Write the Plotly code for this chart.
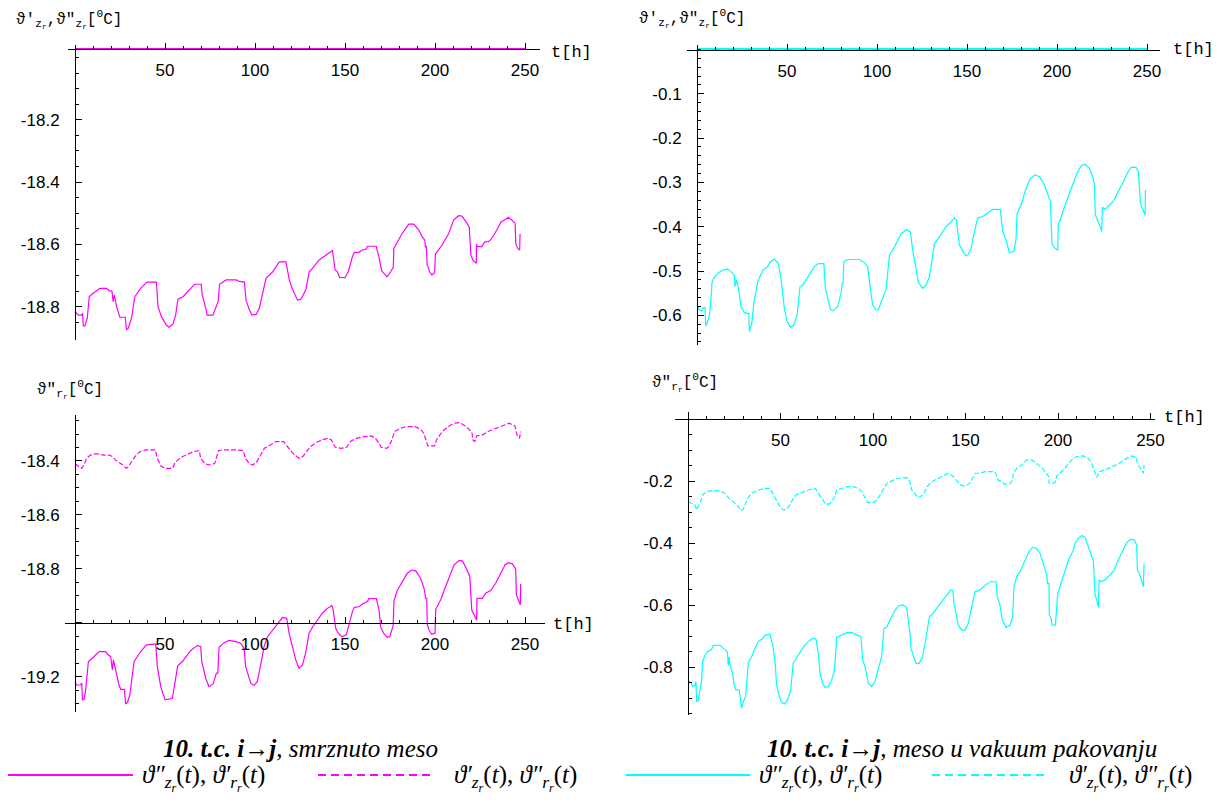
import plotly.graph_objects as go

# ---------------- data (t in hours, temperatures in deg C) ----------------
TIME_TICKS = [50, 100, 150, 200, 250]

# top-left: frozen meat, zone temperatures
TL_SOLID_T = [0, 1.8, 3.7, 4.2, 4.6, 5.5, 6.8, 7.9, 10.1, 13.8, 17.5, 19.0, 20.5, 21.2, 21.8, 23.1, 24.9, 27.9, 28.6, 29.5,
              31.4, 33.2, 36.9, 40.0, 45.2, 46.1, 48.0, 50.7, 52.2, 54.4, 55.9, 57.2, 60.0, 66.4, 70.1, 70.7, 72.9, 73.4, 76.6, 78.4,
              79.5, 80.3, 82.5, 83.9, 89.5, 91.3, 94.1, 95.0, 96.9, 98.3, 100.6, 102.4, 104.2, 106.1, 109.8, 113.5, 117.2, 119.0, 120.8, 123.6,
              125.5, 128.2, 130.1, 131.9, 135.6, 139.3, 142.1, 143.0, 144.5, 145.8, 147.0, 150.0, 151.8, 154.1, 155.2, 157.7, 159.6, 161.8, 162.4, 167.3,
              168.8, 170.3, 171.6, 173.4, 175.3, 176.8, 177.1, 179.0, 181.7, 185.4, 188.2, 191.0, 192.8, 194.3, 194.6, 195.2, 195.6, 196.5, 196.9, 198.3,
              199.8, 200.2, 203.9, 207.6, 210.3, 213.1, 214.9, 217.2, 219.0, 219.9, 221.0, 222.9, 223.1, 223.4, 226.0, 227.5, 229.7, 231.5, 234.3, 236.7,
              238.6, 240.8, 242.6, 244.5, 244.8, 245.9, 247.0, 247.2]
TL_SOLID = [-18.816, -18.827, -18.827, -18.821, -18.862, -18.862, -18.837, -18.768, -18.757, -18.741, -18.741, -18.749, -18.749, -18.784, -18.763, -18.800, -18.834, -18.834, -18.873, -18.870,
            -18.837, -18.768, -18.738, -18.721, -18.721, -18.800, -18.832, -18.859, -18.866, -18.856, -18.827, -18.776, -18.768, -18.728, -18.728, -18.763, -18.811, -18.827, -18.827, -18.800,
            -18.784, -18.728, -18.720, -18.714, -18.714, -18.719, -18.721, -18.779, -18.811, -18.827, -18.825, -18.805, -18.757, -18.709, -18.688, -18.656, -18.656, -18.714, -18.744, -18.779,
            -18.776, -18.746, -18.688, -18.677, -18.650, -18.634, -18.623, -18.620, -18.682, -18.688, -18.706, -18.707, -18.688, -18.639, -18.626, -18.626, -18.618, -18.615, -18.606, -18.606,
            -18.639, -18.684, -18.693, -18.704, -18.688, -18.674, -18.613, -18.591, -18.565, -18.535, -18.535, -18.554, -18.575, -18.586, -18.607, -18.607, -18.666, -18.677, -18.688, -18.698,
            -18.691, -18.631, -18.602, -18.565, -18.522, -18.508, -18.509, -18.527, -18.545, -18.634, -18.650, -18.661, -18.599, -18.607, -18.607, -18.592, -18.591, -18.581, -18.554, -18.527,
            -18.522, -18.513, -18.522, -18.532, -18.597, -18.613, -18.618, -18.567]
TL_DASH_T = [0, 50, 100, 150, 200, 250]
TL_DASH = [-17.973, -17.973, -17.973, -17.973, -17.973, -17.973]

# top-right: vacuum packed meat, zone temperatures
TR_SOLID_T = [0, 1.3, 2.6, 3.7, 4.4, 4.8, 5.9, 7.0, 7.8, 8.3, 9.1, 11.5, 14.3, 17.0, 18.9, 20.7, 21.1, 21.9, 23.0, 24.4,
              26.3, 28.7, 29.1, 30.4, 31.5, 33.7, 36.5, 39.3, 40.7, 43.0, 45.2, 46.7, 48.5, 50.0, 51.9, 53.7, 55.6, 57.2, 58.7, 62.4,
              65.2, 67.0, 70.4, 71.3, 72.6, 74.1, 75.4, 78.1, 80.0, 80.6, 81.1, 81.5, 83.7, 90.2, 93.0, 94.8, 96.7, 97.6, 99.4, 100.7,
              103.1, 105.0, 106.9, 108.3, 110.6, 113.3, 116.1, 118.5, 119.8, 121.7, 123.0, 125.4, 127.2, 129.1, 130.4, 131.9, 134.6, 138.3, 141.1, 143.0,
              144.1, 144.8, 145.7, 147.6, 149.4, 150.7, 152.2, 154.1, 155.9, 158.7, 161.5, 164.3, 168.5, 169.3, 169.8, 171.7, 173.5, 175.9, 177.2, 177.8,
              180.0, 182.8, 185.2, 187.8, 190.2, 192.6, 194.8, 196.3, 196.7, 197.2, 198.5, 200.4, 200.7, 201.5, 204.1, 207.4, 209.6, 211.5, 213.3, 215.6,
              218.0, 219.8, 220.7, 221.3, 222.6, 224.1, 224.8, 225.2, 226.7, 229.1, 231.5, 233.7, 236.5, 239.3, 241.1, 243.9, 245.2, 246.3, 247.6, 248.9, 249.1]
TR_SOLID = [-0.577, -0.588, -0.590, -0.582, -0.582, -0.624, -0.614, -0.596, -0.558, -0.526, -0.517, -0.505, -0.498, -0.496, -0.502, -0.509, -0.535, -0.520, -0.539, -0.581,
            -0.594, -0.596, -0.637, -0.618, -0.573, -0.524, -0.498, -0.490, -0.479, -0.473, -0.483, -0.520, -0.584, -0.614, -0.627, -0.622, -0.599, -0.535, -0.532, -0.509,
            -0.490, -0.484, -0.483, -0.539, -0.562, -0.587, -0.590, -0.581, -0.550, -0.528, -0.528, -0.479, -0.474, -0.474, -0.481, -0.490, -0.554, -0.577, -0.588, -0.587,
            -0.562, -0.541, -0.464, -0.456, -0.438, -0.417, -0.407, -0.411, -0.453, -0.498, -0.526, -0.539, -0.532, -0.513, -0.475, -0.438, -0.423, -0.400, -0.389, -0.380,
            -0.385, -0.415, -0.441, -0.455, -0.466, -0.462, -0.449, -0.411, -0.380, -0.377, -0.368, -0.361, -0.361, -0.385, -0.411, -0.430, -0.459, -0.456, -0.429, -0.371,
            -0.351, -0.313, -0.291, -0.283, -0.287, -0.302, -0.325, -0.344, -0.385, -0.439, -0.447, -0.453, -0.392, -0.389, -0.355, -0.317, -0.295, -0.276, -0.263, -0.259,
            -0.268, -0.287, -0.304, -0.374, -0.386, -0.401, -0.411, -0.356, -0.361, -0.351, -0.341, -0.323, -0.302, -0.277, -0.266, -0.266, -0.276, -0.347, -0.362, -0.374, -0.317]
TR_DASH_T = [0, 50, 100, 150, 200, 250]
TR_DASH = [0.0, 0.0, 0.0, 0.0, 0.0, 0.0]

# bottom-left: frozen meat, surface temperatures
BL_SOLID_T = [0, 0.7, 3.1, 3.7, 4.1, 5.0, 5.9, 7.4, 9.6, 13.3, 17.0, 18.5, 19.8, 20.7, 21.3, 22.6, 24.4, 25.4, 27.4, 28.1,
              29.1, 30.4, 32.8, 36.5, 39.6, 44.8, 45.7, 47.6, 50.0, 54.1, 55.0, 57.0, 59.6, 64.3, 68.0, 69.8, 70.4, 72.6, 74.4, 76.7,
              78.5, 79.3, 80.0, 82.8, 85.6, 89.3, 92.0, 93.9, 94.8, 97.6, 99.4, 101.3, 103.1, 105.0, 106.9, 109.6, 112.4, 115.2, 117.6, 118.9,
              120.7, 122.6, 124.4, 126.3, 128.1, 130.0, 131.9, 134.6, 137.4, 140.2, 142.6, 143.3, 144.8, 146.3, 148.1, 150.7, 152.2, 154.1, 155.2, 157.8,
              159.6, 162.4, 163.3, 167.4, 168.9, 169.8, 171.7, 173.5, 174.8, 175.9, 176.7, 177.2, 179.1, 181.9, 184.6, 187.0, 189.3, 192.0, 193.9, 194.8,
              195.4, 195.7, 196.7, 198.1, 200.0, 200.4, 203.1, 205.9, 208.7, 210.6, 213.3, 215.2, 217.4, 219.3, 220.4, 221.7, 223.1, 223.3, 226.3, 228.1,
              230.9, 233.7, 236.5, 238.9, 240.7, 243.0, 244.8, 245.2, 246.3, 247.4, 247.6]
BL_SOLID = [-19.217, -19.230, -19.230, -19.223, -19.285, -19.283, -19.248, -19.143, -19.131, -19.106, -19.106, -19.119, -19.125, -19.174, -19.137, -19.180, -19.230, -19.246, -19.246, -19.300,
            -19.295, -19.267, -19.143, -19.106, -19.081, -19.078, -19.162, -19.236, -19.285, -19.279, -19.236, -19.159, -19.143, -19.102, -19.083, -19.088, -19.143, -19.205, -19.236, -19.226,
            -19.186, -19.186, -19.090, -19.073, -19.065, -19.069, -19.075, -19.094, -19.162, -19.223, -19.232, -19.217, -19.156, -19.088, -19.051, -19.026, -19.004, -18.980, -18.983, -19.038,
            -19.088, -19.137, -19.168, -19.156, -19.112, -19.038, -19.016, -18.989, -18.964, -18.946, -18.936, -18.946, -19.020, -19.038, -19.051, -19.044, -19.001, -18.958, -18.942, -18.940,
            -18.930, -18.921, -18.910, -18.910, -18.952, -19.016, -19.041, -19.053, -19.051, -19.026, -19.011, -18.917, -18.878, -18.847, -18.816, -18.804, -18.807, -18.835, -18.872, -18.909,
            -18.909, -19.007, -19.026, -19.042, -19.038, -18.949, -18.915, -18.865, -18.816, -18.785, -18.769, -18.770, -18.798, -18.828, -18.952, -18.970, -18.989, -18.909, -18.909, -18.890,
            -18.880, -18.853, -18.816, -18.785, -18.777, -18.781, -18.801, -18.896, -18.915, -18.933, -18.856]
BL_DASH_T = [0, 2.1, 3.8, 5.3, 6.4, 8.5, 10.6, 12.8, 15.9, 19.1, 21.3, 22.3, 24.4, 26.6, 28.3, 29.8, 31.9, 34.0, 36.1, 39.3,
             44.6, 45.7, 47.8, 49.9, 54.2, 55.3, 57.4, 59.5, 61.6, 65.9, 69.1, 69.7, 72.3, 75.5, 77.6, 78.6, 79.7, 81.8, 89.3, 93.5,
             94.6, 96.7, 98.8, 101.0, 103.1, 105.2, 108.4, 111.6, 115.8, 117.3, 119.0, 121.1, 124.3, 126.5, 128.6, 130.7, 133.9, 137.1, 140.3, 142.4,
             144.5, 147.7, 150.9, 153.0, 156.2, 160.5, 164.7, 166.8, 169.0, 170.0, 173.2, 174.3, 176.0, 177.5, 180.7, 183.8, 189.2, 192.3, 193.8, 195.5,
             196.0, 199.8, 200.8, 204.0, 207.2, 210.4, 213.6, 216.8, 218.9, 220.6, 221.0, 222.1, 223.2, 226.3, 229.5, 233.8, 238.0, 241.2, 243.4, 244.4,
             245.5, 246.9, 247.6]
BL_DASH = [-18.409, -18.421, -18.427, -18.409, -18.390, -18.378, -18.374, -18.374, -18.378, -18.378, -18.386, -18.396, -18.406, -18.415, -18.427, -18.421, -18.396, -18.378, -18.365, -18.359,
           -18.359, -18.390, -18.419, -18.427, -18.427, -18.409, -18.394, -18.384, -18.378, -18.365, -18.362, -18.390, -18.411, -18.415, -18.409, -18.390, -18.362, -18.359, -18.359, -18.362,
           -18.390, -18.409, -18.415, -18.402, -18.378, -18.353, -18.341, -18.328, -18.328, -18.341, -18.353, -18.372, -18.390, -18.384, -18.365, -18.347, -18.332, -18.322, -18.316, -18.322,
           -18.349, -18.353, -18.349, -18.328, -18.316, -18.310, -18.307, -18.316, -18.335, -18.349, -18.353, -18.347, -18.322, -18.291, -18.279, -18.273, -18.273, -18.285, -18.298, -18.328,
           -18.344, -18.344, -18.322, -18.291, -18.273, -18.260, -18.258, -18.270, -18.283, -18.298, -18.322, -18.328, -18.307, -18.304, -18.291, -18.279, -18.267, -18.260, -18.267, -18.270,
           -18.304, -18.316, -18.291]

# bottom-right: vacuum packed meat, surface temperatures
BR_SOLID_T = [0, 1.1, 2.5, 3.8, 4.3, 4.7, 5.6, 6.5, 7.4, 7.9, 9.2, 10.5, 12.8, 13.7, 17.3, 19.1, 21.3, 21.8, 22.3, 22.7,
              24.1, 24.9, 25.9, 27.7, 29.0, 29.9, 31.2, 32.6, 34.4, 36.2, 38.0, 40.4, 41.6, 44.3, 45.8, 47.0, 47.9, 49.4, 50.6, 52.1,
              53.7, 55.5, 56.9, 58.2, 60.5, 62.7, 65.0, 67.4, 69.2, 70.5, 71.4, 72.8, 74.1, 75.9, 77.7, 78.9, 79.5, 80.4, 83.1, 85.8,
              88.5, 91.2, 93.5, 94.4, 95.7, 97.5, 99.3, 101.1, 102.9, 104.7, 105.9, 107.4, 109.2, 111.4, 113.7, 116.0, 118.2, 119.1, 120.0, 120.5,
              121.8, 123.2, 125.0, 126.8, 128.6, 130.5, 131.7, 134.4, 138.0, 142.0, 143.1, 143.8, 145.2, 146.1, 147.9, 149.7, 151.5, 153.3, 155.1, 157.8,
              160.0, 163.2, 166.5, 167.2, 168.6, 169.9, 171.9, 174.1, 175.5, 176.2, 177.7, 179.5, 182.2, 184.5, 186.3, 188.1, 190.3, 191.7, 193.9, 194.4,
              195.1, 195.3, 196.2, 196.9, 198.6, 199.8, 201.1, 203.2, 205.6, 208.3, 209.2, 211.0, 212.8, 214.6, 216.4, 218.2, 219.1, 220.0, 220.9, 221.8,
              222.2, 223.2, 225.4, 228.1, 229.9, 232.6, 235.3, 237.1, 239.3, 241.1, 242.5, 242.9, 244.0, 245.8, 246.1, 246.5]
BR_SOLID = [-0.847, -0.847, -0.863, -0.860, -0.847, -0.912, -0.906, -0.874, -0.842, -0.783, -0.761, -0.751, -0.743, -0.730, -0.730, -0.740, -0.751, -0.794, -0.767, -0.794,
            -0.820, -0.855, -0.874, -0.874, -0.933, -0.912, -0.894, -0.786, -0.767, -0.740, -0.718, -0.708, -0.697, -0.695, -0.729, -0.777, -0.858, -0.896, -0.915, -0.919,
            -0.906, -0.876, -0.786, -0.777, -0.756, -0.732, -0.718, -0.708, -0.710, -0.761, -0.820, -0.853, -0.866, -0.863, -0.840, -0.820, -0.786, -0.704, -0.697, -0.689,
            -0.689, -0.697, -0.702, -0.777, -0.799, -0.853, -0.863, -0.847, -0.804, -0.765, -0.675, -0.672, -0.648, -0.621, -0.603, -0.600, -0.608, -0.648, -0.691, -0.740,
            -0.761, -0.788, -0.788, -0.767, -0.708, -0.638, -0.632, -0.611, -0.584, -0.552, -0.552, -0.595, -0.638, -0.665, -0.681, -0.681, -0.659, -0.605, -0.557, -0.552,
            -0.539, -0.525, -0.525, -0.573, -0.600, -0.648, -0.672, -0.665, -0.638, -0.538, -0.509, -0.492, -0.455, -0.425, -0.414, -0.417, -0.433, -0.460, -0.503, -0.530,
            -0.530, -0.632, -0.643, -0.665, -0.665, -0.565, -0.541, -0.503, -0.455, -0.423, -0.401, -0.385, -0.376, -0.382, -0.412, -0.439, -0.457, -0.568, -0.584, -0.608,
            -0.519, -0.525, -0.519, -0.503, -0.492, -0.455, -0.423, -0.399, -0.388, -0.390, -0.406, -0.487, -0.498, -0.535, -0.541, -0.466]
BR_DASH_T = [0, 2.0, 3.8, 4.7, 5.6, 6.8, 7.9, 10.1, 12.8, 15.5, 18.2, 20.0, 21.8, 23.6, 25.4, 27.2, 28.6, 29.9, 31.4, 32.6,
             34.4, 38.0, 41.6, 44.3, 45.8, 47.6, 49.7, 51.5, 53.3, 55.1, 56.9, 58.4, 61.4, 65.0, 68.6, 69.5, 70.5, 72.3, 74.1, 75.9,
             77.7, 79.5, 80.4, 83.1, 85.8, 89.4, 92.1, 93.9, 95.7, 97.1, 100.2, 102.0, 103.8, 105.6, 107.4, 111.0, 113.7, 118.2, 120.0, 120.9,
             122.7, 124.0, 125.8, 127.6, 129.4, 131.2, 133.5, 137.1, 140.7, 142.5, 144.3, 146.1, 147.9, 149.7, 152.1, 153.9, 155.3, 157.8, 160.5, 165.9,
             166.8, 167.7, 169.5, 171.4, 174.1, 175.3, 175.9, 177.7, 180.4, 183.1, 185.8, 188.5, 191.2, 193.5, 194.8, 195.3, 196.6, 198.4, 199.3, 202.0,
             204.7, 207.4, 210.1, 213.7, 216.4, 218.2, 219.1, 220.0, 220.9, 222.3, 225.4, 229.0, 231.7, 234.4, 237.1, 239.8, 242.2, 242.9, 244.0, 245.2,
             246.1, 246.5]
BR_DASH = [-0.267, -0.272, -0.277, -0.293, -0.283, -0.267, -0.245, -0.234, -0.231, -0.231, -0.234, -0.240, -0.253, -0.261, -0.272, -0.283, -0.296, -0.291, -0.272, -0.253,
           -0.240, -0.229, -0.224, -0.224, -0.240, -0.261, -0.283, -0.293, -0.291, -0.277, -0.256, -0.245, -0.238, -0.229, -0.224, -0.229, -0.240, -0.256, -0.272, -0.275,
           -0.267, -0.248, -0.229, -0.224, -0.218, -0.218, -0.224, -0.234, -0.253, -0.269, -0.270, -0.261, -0.245, -0.224, -0.208, -0.197, -0.191, -0.189, -0.202, -0.229,
           -0.240, -0.253, -0.250, -0.238, -0.218, -0.204, -0.197, -0.184, -0.175, -0.181, -0.191, -0.205, -0.215, -0.215, -0.208, -0.191, -0.175, -0.175, -0.170, -0.170,
           -0.181, -0.197, -0.202, -0.211, -0.208, -0.197, -0.175, -0.159, -0.148, -0.132, -0.132, -0.143, -0.156, -0.175, -0.184, -0.208, -0.208, -0.205, -0.184, -0.170,
           -0.152, -0.132, -0.121, -0.119, -0.127, -0.143, -0.159, -0.175, -0.188, -0.170, -0.164, -0.154, -0.148, -0.138, -0.127, -0.119, -0.124, -0.143, -0.154, -0.164,
           -0.175, -0.148]

TL_YTICKS = [-18.2, -18.4, -18.6, -18.8]
TR_YTICKS = [-0.1, -0.2, -0.3, -0.4, -0.5, -0.6]
BL_YTICKS = [-18.4, -18.6, -18.8, -19.0, -19.2]
BL_YLABELS = ["-18.4", "-18.6", "-18.8", "", "-19.2"]
BR_YTICKS = [-0.2, -0.4, -0.6, -0.8]

MAGENTA = "#ff00ff"
CYAN = "#00ffff"

# ---------------- figure ----------------
# page body has an 8px margin; figure is sized so that it fits the 1222x800 window
OFF = 8
W, H = 1214, 792
def px(x):
    return (x - OFF) / W
def py(y):
    return 1 - (y - OFF) / H

fig = go.Figure()
DASH = "5px,2px"
fig.add_trace(go.Scatter(x=TL_DASH_T, y=TL_DASH, mode="lines", line=dict(color=MAGENTA, width=2), xaxis="x", yaxis="y"))
fig.add_trace(go.Scatter(x=TL_SOLID_T, y=TL_SOLID, mode="lines", line=dict(color=MAGENTA, width=1.2), xaxis="x", yaxis="y"))
fig.add_trace(go.Scatter(x=TR_DASH_T, y=TR_DASH, mode="lines", line=dict(color=CYAN, width=3), xaxis="x2", yaxis="y2"))
fig.add_trace(go.Scatter(x=TR_SOLID_T, y=TR_SOLID, mode="lines", line=dict(color=CYAN, width=1.2), xaxis="x2", yaxis="y2"))
fig.add_trace(go.Scatter(x=BL_DASH_T, y=BL_DASH, mode="lines", line=dict(color=MAGENTA, width=1.2, dash=DASH), xaxis="x3", yaxis="y3"))
fig.add_trace(go.Scatter(x=BL_SOLID_T, y=BL_SOLID, mode="lines", line=dict(color=MAGENTA, width=1.2), xaxis="x3", yaxis="y3"))
fig.add_trace(go.Scatter(x=BR_DASH_T, y=BR_DASH, mode="lines", line=dict(color=CYAN, width=1.2, dash=DASH), xaxis="x4", yaxis="y4"))
fig.add_trace(go.Scatter(x=BR_SOLID_T, y=BR_SOLID, mode="lines", line=dict(color=CYAN, width=1.2), xaxis="x4", yaxis="y4"))

TICKFONT = dict(family="Liberation Sans, Arial, sans-serif", size=17, color="black")
x_minor = [v for v in range(10, 251, 10) if v % 50 != 0]

def xaxis(dom, rng, pos):
    return dict(domain=[px(dom[0]), px(dom[1])], range=rng, anchor="free", position=py(pos),
                showline=True, linecolor="black", linewidth=1, showgrid=False, zeroline=False,
                ticks="inside", ticklen=6, tickwidth=1, tickcolor="black",
                tickmode="array", tickvals=TIME_TICKS, ticktext=[str(v) for v in TIME_TICKS],
                tickfont=TICKFONT, ticklabelstandoff=6,
                minor=dict(tickmode="array", tickvals=x_minor, ticks="inside", ticklen=3, tickcolor="black", showgrid=False))

def yaxis(dom, rng, pos, vals, labels, minor_vals):
    return dict(domain=[py(dom[1]), py(dom[0])], range=rng, anchor="free", position=px(pos),
                showline=True, linecolor="black", linewidth=1, showgrid=False, zeroline=False,
                ticks="inside", ticklen=6, tickwidth=1, tickcolor="black",
                tickmode="array", tickvals=vals, ticktext=labels,
                tickfont=TICKFONT, ticklabelstandoff=12,
                minor=dict(tickmode="array", tickvals=minor_vals, ticks="inside", ticklen=3, tickcolor="black", showgrid=False))

def minor_list(lo, hi, step, majors):
    out = []
    n = int(round((hi - lo) / step))
    for i in range(n + 1):
        v = round(lo + i * step, 4)
        if all(abs(v - m) > 1e-6 for m in majors):
            out.append(v)
    return out

fig.update_layout(
    width=W, height=H, margin=dict(l=0, r=0, t=0, b=0, autoexpand=False),
    paper_bgcolor="white", plot_bgcolor="rgba(0,0,0,0)", showlegend=False,
    xaxis=xaxis((68, 540), [-3.9, 258.3], 49),
    yaxis=yaxis((45, 340), [-18.907, -17.96], 75, TL_YTICKS, [f"{v:.1f}" for v in TL_YTICKS],
                minor_list(-18.85, -18.0, 0.05, TL_YTICKS)),
    xaxis2=xaxis((687, 1160), [-5.6, 257.2], 49.5),
    yaxis2=yaxis((45, 345), [-0.667, 0.0102], 697, TR_YTICKS, [f"{v:.1f}" for v in TR_YTICKS],
                 minor_list(-0.66, 0.0, 0.02, TR_YTICKS)),
    xaxis3=xaxis((65, 545), [-5.6, 261.1], 623),
    yaxis3=yaxis((415, 712), [-19.33, -18.2296], 75, BL_YTICKS, BL_YLABELS,
                 minor_list(-19.3, -18.25, 0.05, BL_YTICKS)),
    xaxis4=xaxis((675, 1155), [-7.0, 252.4], 419),
    yaxis4=yaxis((412, 715), [-0.9548, 0.0226], 688, BR_YTICKS, [f"{v:.1f}" for v in BR_YTICKS],
                 minor_list(-0.95, 0.0, 0.05, BR_YTICKS)),
)

MONO = "Liberation Mono, Courier New, monospace"
SERIF = "Liberation Serif, Times New Roman, serif"
ann = []
def add_text(x, y, text, font, size, xanchor="left", yanchor="middle"):
    ann.append(dict(x=px(x), y=py(y), xref="paper", yref="paper", text=text, showarrow=False,
                    xanchor=xanchor, yanchor=yanchor, font=dict(family=font, size=size, color="black")))

for (x, y) in [(549, 52), (1171, 50), (551, 624), (1162, 418)]:
    add_text(x, y, "t[h]", MONO, 17)

ZTITLE = "ϑ'<sub>z<sub>r</sub></sub>,ϑ\"<sub>z<sub>r</sub></sub>[<sup>0</sup>C]"
RTITLE = "ϑ\"<sub>r<sub>r</sub></sub>[<sup>0</sup>C]"
add_text(14, 20, ZTITLE, MONO, 16)
add_text(637, 18, ZTITLE, MONO, 16)
add_text(35, 390, RTITLE, MONO, 16)
add_text(650, 382, RTITLE, MONO, 16)

add_text(300, 748, "<b><i>10. t.c. i→j</i></b><i>, smrznuto meso</i>", SERIF, 25, xanchor="center")
add_text(962, 748, "<b><i>10. t.c. i→j</i></b><i>, meso u vakuum pakovanju</i>", SERIF, 25, xanchor="center")

LEG1 = "<i>ϑ″<sub>z<sub>r</sub></sub></i>(<i>t</i>), <i>ϑ′<sub>r<sub>r</sub></sub></i>(<i>t</i>)"
LEG2 = "<i>ϑ′<sub>z<sub>r</sub></sub></i>(<i>t</i>), <i>ϑ″<sub>r<sub>r</sub></sub></i>(<i>t</i>)"
add_text(204, 778, LEG1, SERIF, 25, xanchor="center")
add_text(515, 778, LEG2, SERIF, 25, xanchor="center")
add_text(820, 778, LEG1, SERIF, 25, xanchor="center")
add_text(1130, 778, LEG2, SERIF, 25, xanchor="center")

shapes = []
for (x0, x1, col, dash) in [(8, 133, MAGENTA, "solid"), (318, 432, MAGENTA, "8px,5px"),
                            (626, 750, CYAN, "solid"), (932, 1047, CYAN, "8px,5px")]:
    shapes.append(dict(type="line", xref="paper", yref="paper", x0=px(x0), x1=px(x1), y0=py(775), y1=py(775),
                       line=dict(color=col, width=2, dash=dash)))

fig.update_layout(annotations=ann, shapes=shapes)
fig.write_html("out.html")
